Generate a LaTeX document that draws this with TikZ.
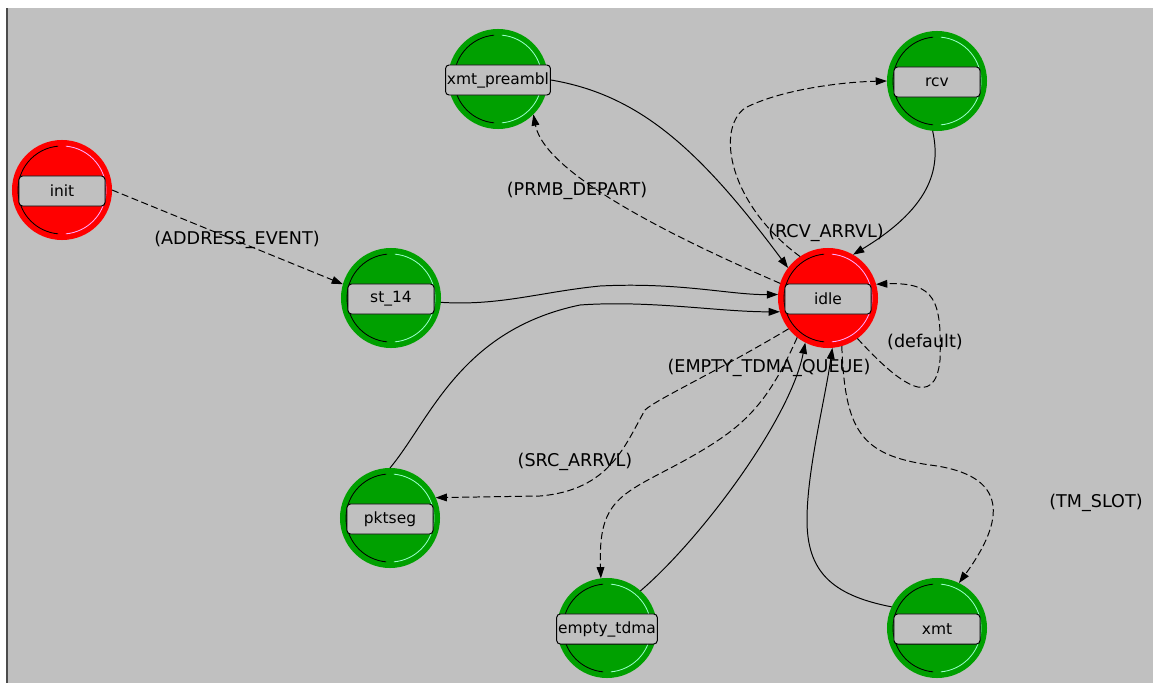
\documentclass[tikz,border=0pt]{standalone}
\usepackage{fontspec}
\setmainfont{DejaVu Sans}
\usetikzlibrary{arrows.meta}

\definecolor{bggrey}{RGB}{192,192,192}
\definecolor{stgreen}{RGB}{0,160,0}
\definecolor{stred}{RGB}{255,0,0}
\definecolor{hlgreen}{RGB}{150,255,200}
\definecolor{hlred}{RGB}{255,170,255}

\tikzset{
  gstate/.style={circle, minimum size=2.5cm, inner sep=0pt, outer sep=0pt, fill=stgreen,
    path picture={
      \draw[black, line width=0.6pt] (path picture bounding box.center) ++(95:1.1cm) arc (95:265:1.1cm);
      \draw[hlgreen, line width=0.6pt] (path picture bounding box.center) ++(85:1.1cm) arc (85:-85:1.1cm);}},
  rstate/.style={circle, minimum size=2.5cm, inner sep=0pt, outer sep=0pt, fill=stred,
    path picture={
      \draw[black, line width=0.6pt] (path picture bounding box.center) ++(95:1.1cm) arc (95:265:1.1cm);
      \draw[hlred, line width=0.6pt] (path picture bounding box.center) ++(85:1.1cm) arc (85:-85:1.1cm);}},
  namebox/.style={draw=black, line width=0.7pt, fill=bggrey, rounded corners=2.5pt,
    minimum width=2.15cm, minimum height=0.75cm, inner sep=1pt, font=\fontsize{11}{13}\selectfont},
  trlabel/.style={inner sep=0pt, font=\fontsize{12.5}{14}\selectfont},
  solidarrow/.style={-{Triangle[length=8pt,width=5.5pt]}, line width=0.7pt},
  dashedarrow/.style={solidarrow, dash pattern=on 5pt off 2.5pt}
}

\begin{document}
\begin{tikzpicture}[x=0.025cm, y=-0.025cm]

\useasboundingbox (0,0) rectangle (1153,683);
\fill[white] (0,0) rectangle (1153,683);
\fill[bggrey] (6,8) rectangle (1153,683);
\fill[black!70] (6,8) rectangle (8,683);

\node[rstate] (init) at (62,190) {};
\node[gstate] (st14) at (391,298) {};
\node[gstate] (xpreambl) at (498,79) {};
\node[gstate] (rcv) at (937,81) {};
\node[rstate] (idle) at (828,298) {};
\node[gstate] (pktseg) at (390,518) {};
\node[gstate] (emptytdma) at (607,628) {};
\node[gstate] (xmt) at (937,628) {};

\node[namebox] (initbox) at (62,191) {init};
\node[namebox] (st14box) at (391,299) {st\_14};
\node[namebox] (xpreamblbox) at (498,80) {xmt\_preambl};
\node[namebox] (rcvbox) at (937,82) {rcv};
\node[namebox] (idlebox) at (828,299) {idle};
\node[namebox] (pktsegbox) at (390,519) {pktseg};
\node[namebox] (emptytdmabox) at (607,629) {empty\_tdma};
\node[namebox] (xmtbox) at (937,629) {xmt};

\draw[dashedarrow] (init.east) -- (st14.164);
\draw[solidarrow] (xpreamblbox.east) .. controls (640,95) and (700,150) .. (idle.143);
\draw[dashedarrow] (idle.163) .. controls (680,240) and (545,175) .. (xpreambl.315);
\draw[dashedarrow] (idle.124) .. controls (730,205) and (715,130) .. (745,108) .. controls (780,90) and (840,82) .. (rcv.180);
\draw[solidarrow] (rcv.265) .. controls (940,165) and (935,205) .. (idle.60);
\draw[dashedarrow] (idle.306) .. controls (900,385) and (935,410) .. (940,360) .. controls (942,300) and (935,282) .. (idle.16);
\draw[solidarrow] (st14.355) .. controls (500,306) and (540,292) .. (600,286) .. controls (680,282) and (730,295) .. (idle.176);
\draw[solidarrow] (pktseg.90) .. controls (430,420) and (460,330) .. (580,305) .. controls (650,300) and (720,312) .. (idle.196);
\draw[dashedarrow] (idle.218) .. controls (720,370) and (655,400) .. (645,410) .. controls (625,445) and (610,490) .. (540,496) -- (pktseg.24);
\draw[dashedarrow] (idle.232) .. controls (765,410) and (740,430) .. (680,463) .. controls (620,495) and (598,500) .. (emptytdma.97);
\draw[solidarrow] (emptytdma.48) .. controls (700,540) and (790,420) .. (idle.243);
\draw[solidarrow] (xmt.155) .. controls (830,595) and (807,570) .. (807,520) .. controls (807,470) and (825,400) .. (idle.275);
\draw[dashedarrow] (idle.286) .. controls (845,430) and (860,455) .. (930,465) .. controls (1010,475) and (1005,520) .. (xmt.64);

\node[trlabel] (addrlbl) at (237,240) {(ADDRESS\_EVENT)};
\node[trlabel] (prmblbl) at (577,191) {(PRMB\_DEPART)};
\node[trlabel] (rcvlbl) at (826,233) {(RCV\_ARRVL)};
\node[trlabel] (deflbl) at (925,342) {(default)};
\node[trlabel] (emptylbl) at (769,368) {(EMPTY\_TDMA\_QUEUE)};
\node[trlabel] (srclbl) at (575,462) {(SRC\_ARRVL)};
\node[trlabel] (tmlbl) at (1096,503) {(TM\_SLOT)};

\end{tikzpicture}
\end{document}
